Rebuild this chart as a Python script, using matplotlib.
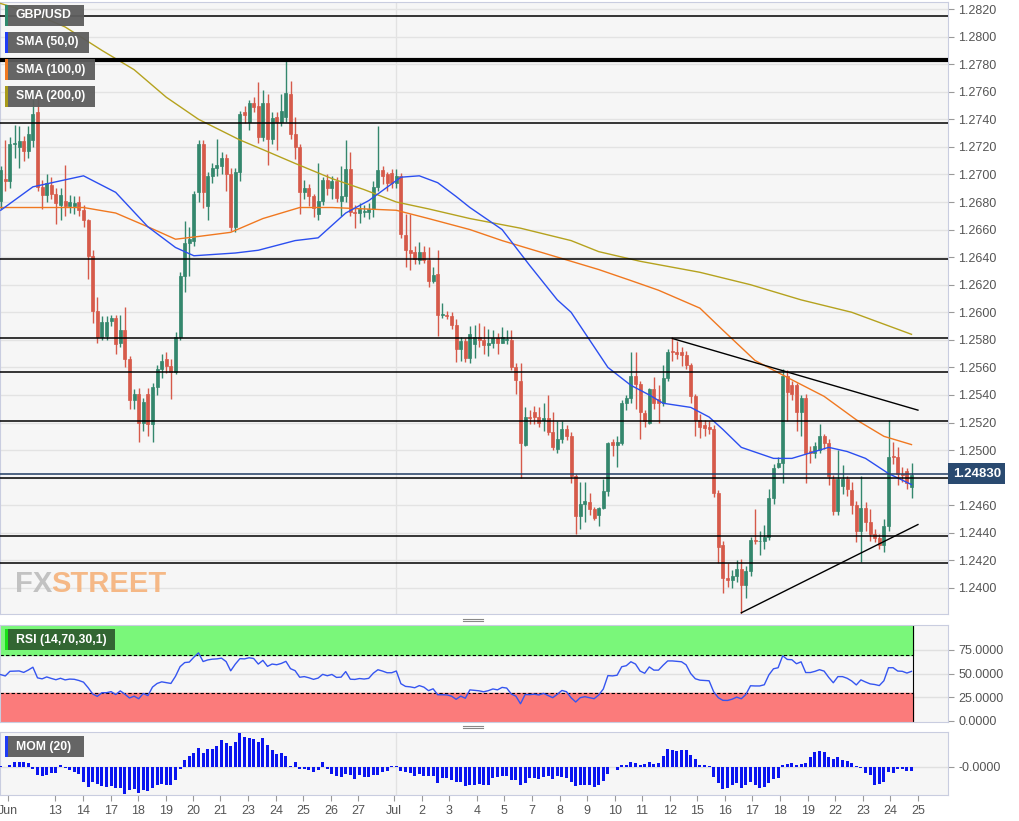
import numpy as np
import matplotlib
matplotlib.use("Agg")
import matplotlib.pyplot as plt
from matplotlib.patches import Rectangle
from matplotlib.lines import Line2D

# ---------------- data ----------------
opens = [1.2681,1.2697,1.2695,1.2722,1.2720,1.2724,1.2717,1.2725,1.2745,1.2691,
 1.2685,1.2692,1.2686,1.2678,1.2681,1.2677,1.2677,1.2680,1.2674,1.2667,
 1.2641,1.2601,1.2582,1.2583,1.2594,1.2596,1.2578,1.2587,1.2566,1.2536,
 1.2541,1.2520,1.2541,1.2519,1.2546,1.2559,1.2566,1.2561,1.2557,1.2582,
 1.2626,1.2650,1.2652,1.2687,1.2722,1.2677,1.2699,1.2705,1.2706,1.2712,
 1.2700,1.2662,1.2702,1.2745,1.2738,1.2752,1.2750,1.2727,1.2752,1.2726,
 1.2742,1.2738,1.2742,1.2758,1.2729,1.2720,1.2687,1.2690,1.2684,1.2671,
 1.2681,1.2696,1.2690,1.2695,1.2681,1.2684,1.2704,1.2673,1.2672,1.2673,
 1.2673,1.2675,1.2691,1.2703,1.2700,1.2701,1.2694,1.2699,1.2656,1.2645,
 1.2644,1.2638,1.2644,1.2638,1.2623,1.2628,1.2598,1.2598,1.2597,1.2591,
 1.2573,1.2579,1.2567,1.2577,1.2582,1.2580,1.2576,1.2578,1.2581,1.2578,
 1.2580,1.2580,1.2560,1.2550,1.2504,1.2524,1.2528,1.2524,1.2522,1.2523,
 1.2513,1.2501,1.2508,1.2515,1.2510,1.2481,1.2452,1.2461,1.2462,1.2457,
 1.2453,1.2458,1.2470,1.2506,1.2504,1.2505,1.2534,1.2538,1.2554,1.2548,
 1.2527,1.2520,1.2544,1.2537,1.2534,1.2552,1.2572,1.2571,1.2571,1.2569,
 1.2562,1.2539,1.2522,1.2518,1.2517,1.2515,1.2469,1.2431,1.2407,1.2406,
 1.2409,1.2414,1.2402,1.2412,1.2435,1.2434,1.2434,1.2437,1.2465,1.2488,
 1.2491,1.2554,1.2547,1.2547,1.2528,1.2538,1.2499,1.2498,1.2500,1.2510,
 1.2505,1.2479,1.2456,1.2474,1.2479,1.2471,1.2460,1.2441,1.2458,1.2448,
 1.2439,1.2436,1.2431,1.2445,1.2496,1.2495,1.2483,1.2485,1.2473]
highs = [1.2706,1.2725,1.2727,1.2736,1.2735,1.2728,1.2735,1.2755,1.2757,1.2696,
 1.2700,1.2698,1.2690,1.2690,1.2707,1.2685,1.2684,1.2684,1.2678,1.2668,
 1.2645,1.2611,1.2597,1.2597,1.2598,1.2598,1.2598,1.2604,1.2568,1.2544,
 1.2545,1.2538,1.2545,1.2549,1.2562,1.2570,1.2571,1.2566,1.2586,1.2629,
 1.2666,1.2662,1.2688,1.2725,1.2725,1.2702,1.2708,1.2726,1.2716,1.2715,
 1.2705,1.2705,1.2746,1.2750,1.2754,1.2756,1.2767,1.2761,1.2758,1.2745,
 1.2745,1.2758,1.2782,1.2768,1.2742,1.2722,1.2696,1.2693,1.2686,1.2708,
 1.2698,1.2700,1.2699,1.2698,1.2706,1.2725,1.2716,1.2678,1.2679,1.2678,
 1.2679,1.2695,1.2735,1.2706,1.2702,1.2704,1.2704,1.2701,1.2671,1.2671,
 1.2648,1.2651,1.2648,1.2647,1.2633,1.2645,1.2607,1.2601,1.2600,1.2595,
 1.2582,1.2581,1.2590,1.2591,1.2592,1.2590,1.2588,1.2587,1.2585,1.2589,
 1.2587,1.2587,1.2563,1.2563,1.2531,1.2529,1.2532,1.2531,1.2534,1.2540,
 1.2528,1.2521,1.2521,1.2518,1.2513,1.2483,1.2477,1.2477,1.2469,1.2459,
 1.2459,1.2479,1.2506,1.2508,1.2510,1.2536,1.2540,1.2571,1.2571,1.2550,
 1.2529,1.2545,1.2553,1.2547,1.2562,1.2573,1.2582,1.2579,1.2575,1.2572,
 1.2563,1.2541,1.2526,1.2522,1.2521,1.2518,1.2471,1.2434,1.2418,1.2413,
 1.2420,1.2421,1.2416,1.2437,1.2457,1.2441,1.2446,1.2472,1.2490,1.2495,
 1.2559,1.2558,1.2550,1.2549,1.2540,1.2541,1.2503,1.2506,1.2519,1.2512,
 1.2508,1.2482,1.2500,1.2489,1.2481,1.2477,1.2463,1.2481,1.2462,1.2457,
 1.2443,1.2439,1.2450,1.2522,1.2506,1.2502,1.2488,1.2487,1.2491]
lows = [1.2675,1.2688,1.2690,1.2712,1.2705,1.2710,1.2712,1.2720,1.2688,1.2675,
 1.2680,1.2682,1.2664,1.2667,1.2670,1.2672,1.2671,1.2670,1.2662,1.2624,
 1.2592,1.2578,1.2580,1.2580,1.2590,1.2570,1.2575,1.2560,1.2530,1.2530,
 1.2506,1.2514,1.2510,1.2506,1.2540,1.2552,1.2556,1.2537,1.2555,1.2580,
 1.2615,1.2626,1.2648,1.2680,1.2676,1.2667,1.2694,1.2699,1.2700,1.2688,
 1.2659,1.2658,1.2695,1.2737,1.2732,1.2745,1.2723,1.2724,1.2707,1.2722,
 1.2718,1.2735,1.2738,1.2726,1.2711,1.2671,1.2682,1.2677,1.2669,1.2667,
 1.2678,1.2685,1.2682,1.2680,1.2670,1.2680,1.2670,1.2661,1.2665,1.2669,
 1.2668,1.2669,1.2688,1.2693,1.2688,1.2690,1.2690,1.2654,1.2633,1.2631,
 1.2635,1.2635,1.2636,1.2618,1.2621,1.2583,1.2596,1.2595,1.2588,1.2564,
 1.2565,1.2564,1.2563,1.2567,1.2575,1.2570,1.2568,1.2574,1.2570,1.2578,
 1.2577,1.2558,1.2541,1.2480,1.2503,1.2519,1.2519,1.2517,1.2514,1.2511,
 1.2500,1.2498,1.2505,1.2507,1.2476,1.2439,1.2443,1.2448,1.2453,1.2449,
 1.2445,1.2457,1.2467,1.2496,1.2488,1.2504,1.2529,1.2534,1.2530,1.2508,
 1.2517,1.2519,1.2530,1.2520,1.2532,1.2550,1.2565,1.2566,1.2561,1.2559,
 1.2534,1.2510,1.2509,1.2510,1.2512,1.2466,1.2418,1.2396,1.2401,1.2400,
 1.2404,1.2381,1.2393,1.2409,1.2432,1.2424,1.2428,1.2435,1.2461,1.2487,
 1.2476,1.2521,1.2536,1.2514,1.2510,1.2476,1.2491,1.2494,1.2498,1.2501,
 1.2475,1.2453,1.2453,1.2468,1.2467,1.2454,1.2433,1.2419,1.2441,1.2434,
 1.2433,1.2428,1.2426,1.2441,1.2490,1.2475,1.2477,1.2472,1.2465]
closes = [1.2703,1.2695,1.2722,1.2723,1.2724,1.2717,1.2729,1.2744,1.2691,1.2685,
 1.2694,1.2686,1.2679,1.2685,1.2677,1.2680,1.2679,1.2674,1.2667,1.2641,
 1.2601,1.2582,1.2593,1.2593,1.2596,1.2577,1.2587,1.2566,1.2536,1.2541,
 1.2520,1.2535,1.2519,1.2546,1.2559,1.2565,1.2561,1.2557,1.2582,1.2626,
 1.2650,1.2653,1.2686,1.2722,1.2687,1.2699,1.2705,1.2707,1.2712,1.2700,
 1.2662,1.2702,1.2744,1.2743,1.2752,1.2749,1.2727,1.2752,1.2726,1.2741,
 1.2738,1.2746,1.2759,1.2729,1.2720,1.2687,1.2690,1.2684,1.2676,1.2681,
 1.2696,1.2690,1.2695,1.2683,1.2684,1.2704,1.2673,1.2672,1.2675,1.2673,
 1.2675,1.2691,1.2703,1.2699,1.2694,1.2694,1.2699,1.2657,1.2645,1.2643,
 1.2639,1.2644,1.2638,1.2623,1.2627,1.2598,1.2598,1.2597,1.2591,1.2573,
 1.2579,1.2567,1.2584,1.2582,1.2580,1.2576,1.2578,1.2581,1.2578,1.2582,
 1.2580,1.2560,1.2551,1.2505,1.2524,1.2523,1.2524,1.2520,1.2523,1.2513,
 1.2502,1.2508,1.2515,1.2510,1.2481,1.2452,1.2461,1.2463,1.2457,1.2451,
 1.2458,1.2470,1.2505,1.2504,1.2506,1.2534,1.2538,1.2554,1.2548,1.2528,
 1.2521,1.2544,1.2534,1.2534,1.2552,1.2571,1.2571,1.2570,1.2569,1.2562,
 1.2539,1.2522,1.2517,1.2516,1.2515,1.2469,1.2430,1.2407,1.2406,1.2409,
 1.2414,1.2402,1.2412,1.2435,1.2434,1.2434,1.2437,1.2465,1.2487,1.2491,
 1.2554,1.2542,1.2541,1.2528,1.2538,1.2498,1.2498,1.2503,1.2510,1.2505,
 1.2481,1.2456,1.2479,1.2479,1.2472,1.2460,1.2441,1.2458,1.2448,1.2439,
 1.2436,1.2431,1.2445,1.2495,1.2495,1.2483,1.2482,1.2476,1.2482]
# closes of the 20 bars before the visible window (for RSI / momentum)
pre_closes = [1.2698,1.2695,1.2712,1.2693,1.2694,1.2682,1.2704,1.2759,1.2746,1.2745,
 1.2749,1.2726,1.2719,1.2670,1.2682,1.2700,1.2709,1.2719,1.2767,1.2771]

sma50_idx = [0,7,18,25,32,38,42,51,56,64,69,75,80,87,91,95,99,102,109,115,121,124,128,132,137,141,144,150,154,157,161,168,172,176,180,184,188,193,198]
sma50_val = [1.2674,1.2691,1.2699,1.2687,1.2662,1.2647,1.2641,1.2643,1.2645,1.2652,1.2654,1.2672,1.2681,1.2698,1.2699,1.2694,1.2684,1.2676,1.2660,1.2634,1.2609,1.2600,1.2580,1.2560,1.2547,1.2540,1.2534,1.2531,1.2524,1.2515,1.2502,1.2494,1.2494,1.2498,1.2502,1.2499,1.2494,1.2483,1.2475]
sma100_idx = [0,7,18,25,32,38,43,50,57,65,72,86,93,102,109,119,130,137,143,152,157,164,172,179,186,192,198]
sma100_val = [1.2676,1.2676,1.2676,1.2672,1.2662,1.2653,1.2655,1.2658,1.2668,1.2676,1.2676,1.2674,1.2668,1.2660,1.2652,1.2642,1.2631,1.2623,1.2616,1.2603,1.2587,1.2565,1.2551,1.2539,1.2522,1.2510,1.2504]
sma200_idx = [0,7,14,22,29,36,43,52,57,64,72,79,86,93,102,113,124,130,139,152,163,174,185,198]
sma200_val = [1.2824,1.2817,1.2807,1.2790,1.2776,1.2756,1.2740,1.2725,1.2718,1.2708,1.2697,1.2689,1.2680,1.2675,1.2668,1.2661,1.2652,1.2644,1.2637,1.2629,1.2620,1.2609,1.2600,1.2584]

hlines = [1.2815, 1.2737, 1.2639, 1.2581, 1.2557, 1.2521, 1.2480, 1.2438, 1.2418]
thick_line = 1.2783
last_price = 1.2483
down_trend = ([146, 199.4], [1.2581, 1.2529])
up_trend = ([161, 199.4], [1.2382, 1.2446])

tick_labels = ["Jun","13","14","17","18","19","20","21","23","24","25","26","27","Jul",
               "2","3","4","5","7","8","9","10","11","12","15","16","17","18","19","22","23","24","25"]
tick_px = [8.4,55,83,111,138,166,193,220,248,276,303,331,358,394,422,449,477,504,532,560,
           587,615,642,670,697,725,752,780,808,835,863,890,918]

# ---------------- figure ----------------
W, H = 1019, 821
plt.rcParams["font.family"] = "Liberation Sans"
fig = plt.figure(figsize=(W/100, H/100), dpi=100)
fig.patch.set_facecolor("white")
BG = "#f6f6f6"
EDGE = "#c9cde0"
TXT = "#555555"
GREEN = "#34876d"
RED = "#d65a4a"

def px2x(p):
    return (p - 0.7) / 4.6

XL = (px2x(0), px2x(948))
axw = 948 / W

def mk_ax(top, bottom):
    ax = fig.add_axes([0, 1 - bottom / H, axw, (bottom - top) / H])
    ax.set_facecolor(BG)
    for s in ax.spines.values():
        s.set_color(EDGE)
    ax.yaxis.tick_right()
    ax.tick_params(axis="y", colors="#999999", labelcolor=TXT, labelsize=9, length=4, direction="out")
    ax.set_xlim(*XL)
    ax.set_xticks([])
    ax.axvline(px2x(396), color="#e2e2e2", lw=1, zorder=0)
    return ax

n = min(len(opens), len(highs), len(lows), len(closes))
idx = np.arange(n)

# ---- main price panel ----
ax = mk_ax(2, 614)
ax.set_ylim(1.23811, 1.28251)
yt = np.round(np.arange(1.2400, 1.28201, 0.002), 4)
ax.set_yticks(yt)
# the 1.2480 label is hidden behind the last-price box
ax.set_yticklabels(["" if abs(v - 1.2480) < 1e-6 else f"{v:.4f}" for v in yt])
for v in yt:
    ax.axhline(v, color="#e3e3e3", lw=1, zorder=0)

for i in range(n):
    o, h, l, c = opens[i], highs[i], lows[i], closes[i]
    col = GREEN if c >= o else RED
    ax.vlines(i, l, h, color=col, lw=1, zorder=3)
    b = max(abs(c - o), 0.00004)
    ax.add_patch(Rectangle((i - 0.33, min(o, c)), 0.66, b, facecolor=col, edgecolor=col, lw=0.5, zorder=4))

ax.plot(sma200_idx, sma200_val, color="#b5a21e", lw=1, zorder=5)
ax.plot(sma100_idx, sma100_val, color="#f07820", lw=1, zorder=5)
ax.plot(sma50_idx, sma50_val, color="#2b4ef0", lw=1, zorder=5)

for v in hlines:
    ax.axhline(v, color="black", lw=1.1, zorder=6)
ax.axhline(thick_line, color="black", lw=3, zorder=6)
ax.axhline(last_price, color="#1f3b62", lw=1.1, zorder=6)
ax.plot(*down_trend, color="black", lw=1, zorder=6)
ax.plot(*up_trend, color="black", lw=1, zorder=6)

ax.text(1.005, last_price, "1.24830", transform=ax.get_yaxis_transform(), ha="left", va="center",
        color="white", fontsize=9.5, fontweight="bold", zorder=10,
        bbox=dict(boxstyle="square,pad=0.35", facecolor="#2a4a70", edgecolor="none"))

# watermark
fig.text(15 / W, 1 - 592 / H, "FX", fontsize=21, fontweight="bold", color="#bdbdbd", alpha=0.9, va="baseline")
fig.text(51 / W, 1 - 592 / H, "STREET", fontsize=21, fontweight="bold", color="#f5b27a", alpha=0.9, va="baseline")

# legend boxes
def label_box(x0, y0, w, h, text, stripe, face="#5d5d5d"):
    fig.patches.append(Rectangle((x0 / W, 1 - (y0 + h) / H), w / W, h / H, transform=fig.transFigure,
                                 facecolor=face, edgecolor="none", alpha=0.95, zorder=20))
    fig.patches.append(Rectangle((x0 / W, 1 - (y0 + h) / H), 3 / W, h / H, transform=fig.transFigure,
                                 facecolor=stripe, edgecolor="none", zorder=21))
    fig.text((x0 + 11) / W, 1 - (y0 + h / 2) / H, text, color="white", fontsize=8.8, fontweight="bold",
             va="center", ha="left", zorder=22)

label_box(5, 5, 79, 21, "GBP/USD", "#2f8a6e")
label_box(5, 32, 84, 21, "SMA (50,0)", "#1f3cf5")
label_box(5, 59, 90, 21, "SMA (100,0)", "#f07820")
label_box(5, 86, 90, 21, "SMA (200,0)", "#a89a1a")

# ---- RSI panel ----
allc = np.array(pre_closes + closes[:n])
d = np.diff(allc)
g = np.where(d > 0, d, 0.0)
ls = np.where(d < 0, -d, 0.0)
ag = g[:14].mean(); al = ls[:14].mean()
rsi_all = []
for k in range(14, len(d)):
    ag = (ag * 13 + g[k]) / 14
    al = (al * 13 + ls[k]) / 14
    rsi_all.append(100 - 100 / (1 + ag / al) if al > 0 else 100)
rsi = np.array(rsi_all)[-n:]

ax2 = mk_ax(625, 722)
ax2.set_ylim(-1.06, 101.4)
ax2.set_yticks([0, 25, 50, 75])
ax2.set_yticklabels(["0.0000", "25.0000", "50.0000", "75.0000"])
for v in [25, 50, 75]:
    ax2.axhline(v, color="#e0e0e0", lw=1, zorder=0)
xb = [px2x(0), px2x(913)]
ax2.fill_between(xb, 70, 100, color="#7af77a", zorder=1)
ax2.fill_between(xb, 0, 30, color="#fb7b7b", zorder=1)
ax2.plot(xb, [70, 70], color="black", lw=0.8, ls=(0, (3, 2)), zorder=2)
ax2.plot(xb, [30, 30], color="black", lw=0.8, ls=(0, (3, 2)), zorder=2)
ax2.plot([xb[1], xb[1]], [0, 100], color="black", lw=0.8, zorder=2)
ax2.plot(idx, rsi, color="#3555f0", lw=1, zorder=3)
label_box(5, 629, 110, 21, "RSI (14,70,30,1)", "#18e018", face="#2e5e2e")

# ---- Momentum panel ----
mom = allc[20:] - allc[:-20]
mom = mom[-n:]
ax3 = mk_ax(732, 795)
ax3.set_ylim(-0.01853, 0.02316)
ax3.set_yticks([0])
ax3.set_yticklabels(["-0.0000"])
ax3.axhline(0, color="#e0e0e0", lw=1, zorder=0)
ax3.bar(idx, mom, width=0.62, color="#0a14f0", zorder=3)
label_box(5, 736, 79, 21, "MOM (20)", "#1f3cf5")

# x tick labels under momentum panel
ax3.set_xticks([px2x(p) for p in tick_px])
ax3.set_xticklabels(tick_labels)
ax3.tick_params(axis="x", colors="#999999", labelcolor=TXT, labelsize=9, length=4, pad=3)

# splitter handles
for yy in (619, 621, 726, 728):
    fig.add_artist(Line2D([463 / W, 483 / W], [1 - yy / H, 1 - yy / H], color="#888888", lw=0.8))

fig.savefig("out.png", dpi=100, facecolor="white")
